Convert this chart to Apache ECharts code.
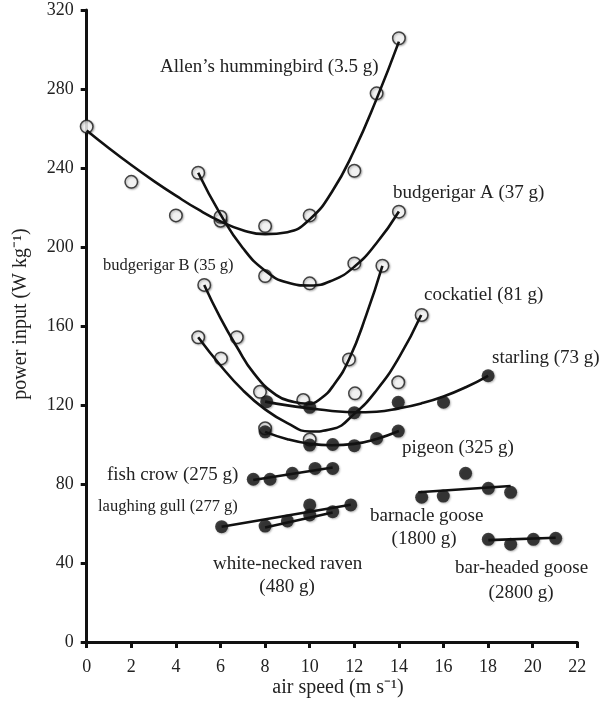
<!DOCTYPE html>
<html>
<head>
<meta charset="utf-8">
<script src="https://cdn.jsdelivr.net/npm/echarts@6/dist/echarts.min.js"></script>
<style>
html,body{margin:0;padding:0;background:#fff;}
#main{width:602px;height:702px;}
</style>
</head>
<body>
<div id="main"></div>
<script>
// ---- axis ticks ----
const xTicks = [0, 2, 4, 6, 8, 10, 12, 14, 16, 18, 20, 22];
const yTicks = [0, 40, 80, 120, 160, 200, 240, 280, 320];

// ---- measured points (open circles) ----
const hummingbirdX = [0, 2, 4, 6, 8, 10, 12, 13, 14];
const hummingbirdY = [261, 233, 216, 213.3, 210.6, 216, 238.6, 277.8, 305.7];
const budgerigarAX = [5, 6, 8, 10, 12, 14];
const budgerigarAY = [237.6, 215.3, 185.3, 181.6, 191.7, 217.9];
const budgerigarBX = [5.27, 6.73, 7.77, 9.71, 11.76, 13.26];
const budgerigarBY = [180.8, 154.3, 126.7, 122.5, 143.1, 190.5];
const cockatielX = [5, 6.02, 8, 10, 12.03, 13.97, 15.02];
const cockatielY = [154.3, 143.6, 108.2, 102.5, 125.9, 131.5, 165.6];

// ---- measured points (filled circles) ----
const starlingX = [8.07, 10, 12, 13.97, 16, 18];
const starlingY = [121.7, 118.8, 116.1, 121.4, 121.4, 134.8];
const pigeonX = [8, 10, 11.03, 12, 13, 13.97];
const pigeonY = [106.4, 99.7, 100, 99.4, 103.1, 106.8];
const fishCrowX = [7.47, 8.22, 9.22, 10.24, 11.03];
const fishCrowY = [82.4, 82.4, 85.4, 87.9, 87.9];
const gullX = [8, 9, 10, 11.03];
const gullY = [58.7, 61.3, 64.3, 66];
const ravenX = [6.05, 10, 11.84];
const ravenY = [58.4, 69.4, 69.4];
const barnacleX = [15.02, 15.99, 16.99, 18.01, 19.01];
const barnacleY = [73.3, 73.9, 85.4, 77.8, 75.8];
const barHeadedX = [18.01, 19.01, 20.03, 21.03];
const barHeadedY = [52.0, 49.5, 52.0, 52.5];

// ---- fitted curves ----
const hummingbirdFitX = [0, 1, 2, 3, 4, 5, 6, 7, 8, 9, 10, 11, 12, 13, 14];
const hummingbirdFitY = [259, 250, 241.5, 233.5, 226, 219, 213, 208.5, 206.5, 207.5, 214, 228, 249, 275, 304];
const budgerigarAFitX = [5, 6, 7, 8, 9, 10, 11, 12, 13, 14];
const budgerigarAFitY = [237.6, 216.5, 199.5, 188, 182, 180.5, 183, 190, 202, 218];
const budgerigarBFitX = [5.27, 6, 6.73, 7.5, 8.5, 9.3, 9.9, 10.5, 11.1, 11.76, 12.55, 13.26];
const budgerigarBFitY = [180.8, 164, 149.5, 136, 125, 121.5, 120.6, 123.3, 130.5, 143, 166, 190.5];
const cockatielFitX = [5, 6, 7, 8, 9, 10, 11, 12, 13, 14, 15];
const cockatielFitY = [154.3, 140, 127.5, 117.8, 110.8, 106.6, 107.8, 115.5, 127.5, 144, 165.6];
const starlingFitX = [8, 9, 10, 11, 12, 13, 14, 15, 16, 17, 18];
const starlingFitY = [121.7, 119.8, 118.3, 117, 116.3, 116.6, 118.3, 120.8, 124.3, 129, 134.8];
const pigeonFitX = [8, 9, 10, 11, 12, 13, 14];
const pigeonFitY = [106.4, 102.7, 100.4, 99.6, 100.3, 102.8, 106.8];
const fishCrowFitX = [7.47, 11.03];
const fishCrowFitY = [82.0, 88.4];
const gullFitX = [8, 11.03];
const gullFitY = [58.0, 65.6];
const ravenFitX = [6.05, 11.84];
const ravenFitY = [58.4, 69.5];
const barnacleFitX = [14.87, 19.01];
const barnacleFitY = [75.8, 79.0];
const barHeadedFitX = [18.01, 21.03];
const barHeadedFitY = [51.6, 52.8];

const FONT = '"Liberation Serif", "Times New Roman", serif';
const zip = (xs, ys) => xs.map((x, i) => [x, ys[i]]);

const openSets = [[hummingbirdX, hummingbirdY], [budgerigarAX, budgerigarAY], [budgerigarBX, budgerigarBY], [cockatielX, cockatielY]];
const filledSets = [[starlingX, starlingY], [pigeonX, pigeonY], [fishCrowX, fishCrowY], [gullX, gullY], [ravenX, ravenY], [barnacleX, barnacleY], [barHeadedX, barHeadedY]];
const curveSets = [
  [hummingbirdFitX, hummingbirdFitY], [budgerigarAFitX, budgerigarAFitY], [budgerigarBFitX, budgerigarBFitY],
  [cockatielFitX, cockatielFitY], [starlingFitX, starlingFitY], [pigeonFitX, pigeonFitY]
];
const lineSets = [[fishCrowFitX, fishCrowFitY], [gullFitX, gullFitY], [ravenFitX, ravenFitY], [barnacleFitX, barnacleFitY], [barHeadedFitX, barHeadedFitY]];

const shadow = { shadowBlur: 2, shadowColor: 'rgba(0,0,0,0.35)', shadowOffsetX: 1, shadowOffsetY: 1 };
const series = [];
openSets.forEach(([xs, ys]) => series.push({
  type: 'scatter', data: zip(xs, ys), symbol: 'circle', symbolSize: 12.5, z: 2, silent: true,
  itemStyle: Object.assign({ color: '#fff', borderColor: '#1a1a1a', borderWidth: 1.5 }, shadow)
}));
filledSets.forEach(([xs, ys]) => series.push({
  type: 'scatter', data: zip(xs, ys), symbol: 'circle', symbolSize: 13, z: 2, silent: true,
  itemStyle: Object.assign({ color: '#111' }, shadow)
}));
curveSets.forEach(([xs, ys]) => series.push({
  type: 'line', data: zip(xs, ys), showSymbol: false, smooth: 0.5, z: 3, silent: true,
  lineStyle: { color: '#111', width: 2.6 }
}));
lineSets.forEach(([xs, ys]) => series.push({
  type: 'line', data: zip(xs, ys), showSymbol: false, z: 3, silent: true,
  lineStyle: { color: '#111', width: 2.6 }
}));

function txt(text, x, y, size, align) {
  return { type: 'text', x: x, y: y, z: 10, silent: true,
    style: { text: text, fontSize: size, fontFamily: FONT, fill: '#222', align: align || 'left', verticalAlign: 'middle' } };
}

const chart = echarts.init(document.getElementById('main'), null, { renderer: 'canvas' });
chart.setOption({
  animation: false,
  backgroundColor: '#fff',
  grid: { left: 86.7, right: 24.7, top: 10, bottom: 60, containLabel: false },
  xAxis: {
    type: 'value', min: xTicks[0], max: xTicks[xTicks.length - 1], interval: 2,
    axisLine: { show: true, onZero: false, lineStyle: { color: '#111', width: 3 } },
    axisTick: { show: true, inside: false, length: 6, lineStyle: { color: '#111', width: 3 } },
    axisLabel: { margin: 16, fontSize: 18, fontFamily: FONT, color: '#222' },
    splitLine: { show: false }
  },
  yAxis: {
    type: 'value', min: yTicks[0], max: yTicks[yTicks.length - 1], interval: 40,
    axisLine: { show: true, onZero: false, lineStyle: { color: '#111', width: 3 } },
    axisTick: { show: true, inside: false, length: 6, lineStyle: { color: '#111', width: 3 } },
    axisLabel: { margin: 13, fontSize: 18, fontFamily: FONT, color: '#222' },
    splitLine: { show: false }
  },
  graphic: [
    txt('Allen\u2019s hummingbird (3.5 g)', 160, 67, 19),
    txt('budgerigar A (37 g)', 393, 193, 19),
    txt('budgerigar B (35 g)', 103, 266, 16.5),
    txt('cockatiel (81 g)', 424, 295, 19),
    txt('starling (73 g)', 492, 358, 19),
    txt('pigeon (325 g)', 402, 448, 19),
    txt('fish crow (275 g)', 107, 475, 19),
    txt('laughing gull (277 g)', 98, 507, 16.5),
    txt('white-necked raven', 213, 564, 19),
    txt('(480 g)', 287, 587, 19, 'center'),
    txt('barnacle goose', 370, 516, 19),
    txt('(1800 g)', 424, 539, 19, 'center'),
    txt('bar-headed goose', 455, 568, 19),
    txt('(2800 g)', 521, 593, 19, 'center'),
    txt('air speed (m s\u207B\u00B9)', 338, 688, 20, 'center'),
    { type: 'text', x: 21, y: 314, rotation: Math.PI / 2, z: 10, silent: true,
      style: { text: 'power input (W kg\u207B\u00B9)', fontSize: 20, fontFamily: FONT, fill: '#222', align: 'center', verticalAlign: 'middle' } }
  ],
  series: series
});
</script>
</body>
</html>
